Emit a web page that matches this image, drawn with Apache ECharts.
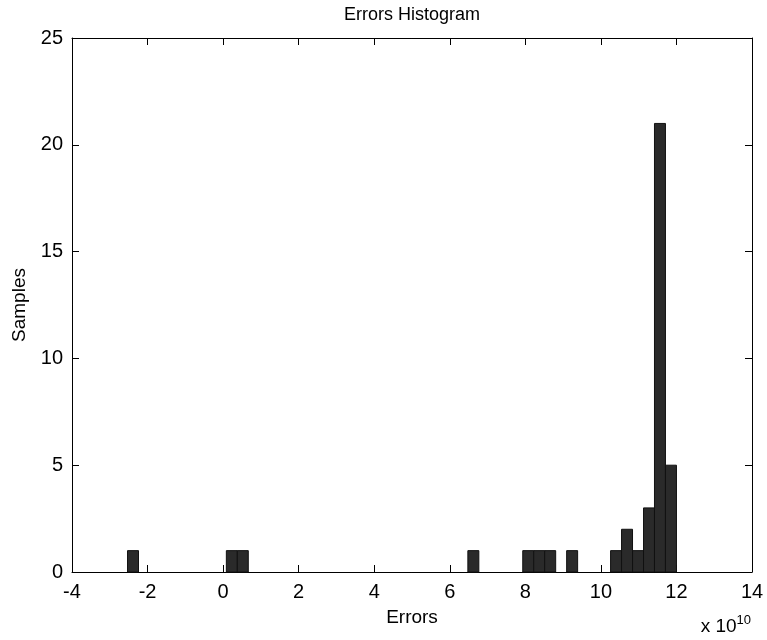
<!DOCTYPE html>
<html lang="en">
<head>
    <meta charset="UTF-8">
    <title>Errors Histogram</title>
    <script src="https://cdn.jsdelivr.net/npm/echarts@6/dist/echarts.min.js"></script>
    <style>
        html, body { margin: 0; padding: 0; background: #fff; }
    </style>
</head>
<body>
<div id="main" style="width: 767px;height:640px;"></div>

<script type="text/javascript">
    // bin centres (x 10^10) of the non-empty bins, and their counts
    var binCenters = [-2.385, 0.231, 0.521, 6.624, 8.077, 8.368, 8.658, 9.239,
                      10.402, 10.692, 10.983, 11.274, 11.564, 11.855];
    var binCounts = [1, 1, 1, 1, 1, 1, 1, 1, 1, 2, 1, 3, 21, 5];
    var binWidth = 0.2906;
    var xTicks = [-4, -2, 0, 2, 4, 6, 8, 10, 12, 14];
    var yTicks = [0, 5, 10, 15, 20, 25];

    var font = "'Liberation Sans', Arial, sans-serif";

    var data = [];
    for (var i = 0; i < binCenters.length; i++) {
        data.push([binCenters[i], binCounts[i]]);
    }

    var myChart = echarts.init(document.getElementById('main'));

    // secondary axes only draw the mirrored ticks of the box
    function boxAxis(pos, min, max, step) {
        return {
            type: 'value',
            position: pos,
            min: min,
            max: max,
            interval: step,
            axisLine: { show: true, onZero: false, lineStyle: { color: '#000', width: 1 } },
            axisTick: { show: true, inside: true, length: 7, lineStyle: { color: '#000' } },
            axisLabel: { show: false },
            splitLine: { show: false }
        };
    }

    var option = {
        animation: false,
        backgroundColor: '#fff',
        title: {
            text: 'Errors Histogram',
            left: 407,
            textAlign: 'center',
            top: 1,
            textStyle: { fontFamily: font, fontSize: 18, fontWeight: 'normal', color: '#000' }
        },
        grid: { left: 72, right: 15, top: 38, bottom: 68 },
        xAxis: [{
            type: 'value',
            position: 'bottom',
            min: xTicks[0],
            max: xTicks[xTicks.length - 1],
            interval: 2,
            name: 'Errors',
            nameLocation: 'middle',
            nameGap: 36,
            nameTextStyle: { fontFamily: font, fontSize: 19, color: '#000' },
            axisLine: { show: true, onZero: false, lineStyle: { color: '#000', width: 1 } },
            axisTick: { show: true, inside: true, length: 7, lineStyle: { color: '#000' } },
            axisLabel: { fontFamily: font, fontSize: 20, color: '#000', margin: 10 },
            splitLine: { show: false }
        }, boxAxis('top', -4, 14, 2)],
        yAxis: [{
            type: 'value',
            position: 'left',
            min: yTicks[0],
            max: yTicks[yTicks.length - 1],
            interval: 5,
            name: 'Samples',
            nameLocation: 'middle',
            nameGap: 43,
            nameRotate: 90,
            nameTextStyle: { fontFamily: font, fontSize: 19, color: '#000' },
            axisLine: { show: true, onZero: false, lineStyle: { color: '#000', width: 1 } },
            axisTick: { show: true, inside: true, length: 7, lineStyle: { color: '#000' } },
            axisLabel: { fontFamily: font, fontSize: 20, color: '#000', margin: 9 },
            splitLine: { show: false }
        }, boxAxis('right', 0, 25, 5)],
        graphic: [{
            type: 'text',
            right: 16,
            top: 614,
            style: {
                text: '{a|x 10}{b|10}',
                rich: {
                    a: { fontFamily: font, fontSize: 19, fill: '#000', verticalAlign: 'bottom' },
                    b: { fontFamily: font, fontSize: 13, fill: '#000', verticalAlign: 'top', padding: [0, 0, 9, 0] }
                }
            }
        }],
        series: [{
            type: 'custom',
            xAxisIndex: 0,
            yAxisIndex: 0,
            data: data,
            renderItem: function (params, api) {
                var c = api.value(0);
                var n = api.value(1);
                var p0 = api.coord([c - binWidth / 2, 0]);
                var p1 = api.coord([c + binWidth / 2, n]);
                return {
                    type: 'rect',
                    shape: { x: p0[0], y: p1[1], width: p1[0] - p0[0], height: p0[1] - p1[1] },
                    style: { fill: '#2a2a2a', stroke: '#111', lineWidth: 1 }
                };
            }
        }]
    };
    myChart.setOption(option);
</script>
</body>
</html>
